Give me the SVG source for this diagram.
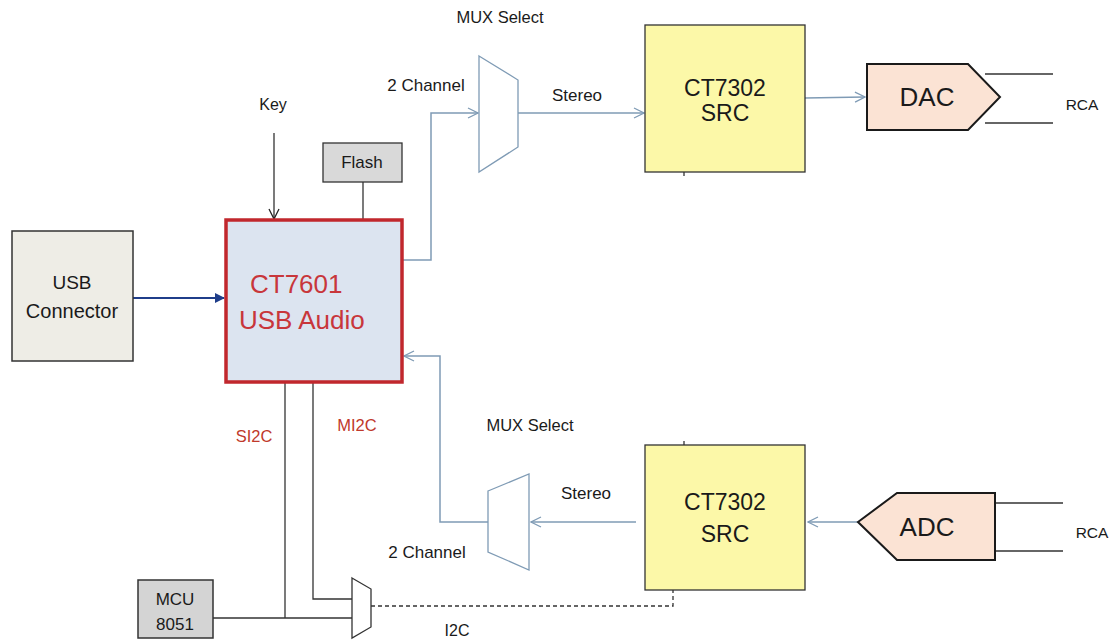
<svg xmlns="http://www.w3.org/2000/svg" width="1116" height="641" viewBox="0 0 1116 641">
<defs>
<style>
text{font-family:"Liberation Sans",Arial,sans-serif;fill:#1a1a1a}
.lbl{font-size:16px}
.red{fill:#c0392b}
.sig{fill:none;stroke:#7f9bb5;stroke-width:1.5}
.blk{fill:none;stroke:#333;stroke-width:1.3}
.src{fill:#fcf8a8;stroke:#333;stroke-width:1.3}
.cnv{fill:#fbe3d4;stroke:#1a1a1a;stroke-width:2}
.mux{fill:#fff;stroke:#7f9bb5;stroke-width:1.3}
</style>
<marker id="oa" viewBox="0 0 12 12" refX="11" refY="6" markerWidth="12" markerHeight="12" markerUnits="userSpaceOnUse" orient="auto">
<path d="M1,1 L11,6 L1,11" fill="none" stroke="#7f9bb5" stroke-width="1.3"/>
</marker>
<marker id="ka" viewBox="0 0 12 12" refX="11" refY="6" markerWidth="12" markerHeight="12" markerUnits="userSpaceOnUse" orient="auto">
<path d="M1,1 L11,6 L1,11" fill="none" stroke="#222" stroke-width="1.3"/>
</marker>
<marker id="ba" viewBox="0 0 10 10" refX="9" refY="5" markerWidth="10" markerHeight="10" markerUnits="userSpaceOnUse" orient="auto">
<path d="M0,0 L10,5 L0,10 Z" fill="#1f3e8a"/>
</marker>
</defs>
<rect width="1116" height="641" fill="#fff"/>

<g id="connectors">
<line x1="133" y1="298" x2="224" y2="298" stroke="#1f3e8a" stroke-width="2.2" marker-end="url(#ba)"/>
<line x1="274" y1="133" x2="274" y2="219" class="blk" marker-end="url(#ka)"/>
<line x1="363" y1="182" x2="363" y2="220" class="blk"/>
<polyline points="402,260 431,260 431,113 478,113" class="sig" marker-end="url(#oa)"/>
<line x1="518" y1="113" x2="644" y2="113" class="sig" marker-end="url(#oa)"/>
<line x1="805" y1="98" x2="865" y2="97" class="sig" marker-end="url(#oa)"/>
<line x1="858" y1="522" x2="808" y2="522" class="sig" marker-end="url(#oa)"/>
<line x1="636" y1="522" x2="531" y2="522" class="sig" marker-end="url(#oa)"/>
<polyline points="488,522 440,522 440,356 404,356" class="sig" marker-end="url(#oa)"/>
<line x1="985" y1="74" x2="1053" y2="74" class="blk"/>
<line x1="985" y1="123" x2="1053" y2="123" class="blk"/>
<line x1="995" y1="503" x2="1063" y2="503" class="blk"/>
<line x1="995" y1="551" x2="1063" y2="551" class="blk"/>
<line x1="285" y1="383" x2="285" y2="618" class="blk"/>
<polyline points="313,383 313,599 352,599" class="blk"/>
<line x1="213" y1="618" x2="352" y2="618" class="blk"/>
<polyline points="371,606 673,606 673,590" fill="none" stroke="#333" stroke-width="1.3" stroke-dasharray="4,3"/>
<line x1="684" y1="172" x2="684" y2="176" class="blk"/>
<line x1="684" y1="441" x2="684" y2="445" class="blk"/>
</g>

<g id="usb-connector">
<rect x="12" y="231" width="121" height="130" fill="#eeede6" stroke="#333" stroke-width="1.5"/>
<text x="72" y="289" font-size="19" text-anchor="middle">USB</text>
<text x="72" y="318" font-size="20" text-anchor="middle">Connector</text>
</g>

<g id="ct7601">
<rect x="226" y="220" width="176" height="162" fill="#dce4f0" stroke="#c1272d" stroke-width="3.5"/>
<text x="250" y="293" font-size="26" style="fill:#c8363b">CT7601</text>
<text x="239" y="329" font-size="26" style="fill:#c8363b">USB Audio</text>
</g>

<g id="key">
<text x="273" y="110" class="lbl" text-anchor="middle">Key</text>
</g>

<g id="flash">
<rect x="323" y="143" width="79" height="39" fill="#d9d9d9" stroke="#333" stroke-width="1.3"/>
<text x="362" y="168" font-size="17" text-anchor="middle">Flash</text>
</g>

<g id="mux-top">
<polygon points="479,56 518,80 518,147 479,172" class="mux"/>
<text x="500" y="23" font-size="16.5" text-anchor="middle">MUX Select</text>
<text x="426" y="91" font-size="17" text-anchor="middle">2 Channel</text>
<text x="577" y="101" font-size="17" text-anchor="middle">Stereo</text>
</g>

<g id="src-top">
<rect x="645" y="25" width="160" height="147" class="src"/>
<text x="725" y="96" font-size="23" text-anchor="middle">CT7302</text>
<text x="725" y="121" font-size="23" text-anchor="middle">SRC</text>
</g>

<g id="dac">
<polygon points="867,64 968,64 1000,97 968,130 867,130" class="cnv"/>
<text x="927" y="106" font-size="26" text-anchor="middle">DAC</text>
<text x="1082" y="110" font-size="15.5" text-anchor="middle">RCA</text>
</g>

<g id="src-bottom">
<rect x="645" y="445" width="160" height="145" class="src"/>
<text x="725" y="510" font-size="23" text-anchor="middle">CT7302</text>
<text x="725" y="542" font-size="23" text-anchor="middle">SRC</text>
</g>

<g id="adc">
<polygon points="858,522 897,493 995,493 995,560 897,560" class="cnv"/>
<text x="927" y="536" font-size="26" text-anchor="middle">ADC</text>
<text x="1092" y="538" font-size="15.5" text-anchor="middle">RCA</text>
</g>

<g id="mux-bottom">
<polygon points="488,491 529,474 529,570 488,552" class="mux"/>
<text x="530" y="431" font-size="16.5" text-anchor="middle">MUX Select</text>
<text x="586" y="499" font-size="17" text-anchor="middle">Stereo</text>
<text x="427" y="558" font-size="17" text-anchor="middle">2 Channel</text>
</g>

<g id="i2c-labels">
<text x="254" y="442" font-size="16.5" class="red" text-anchor="middle">SI2C</text>
<text x="357" y="431" font-size="16.5" class="red" text-anchor="middle">MI2C</text>
<text x="457" y="636" font-size="16" text-anchor="middle">I2C</text>
</g>

<g id="mcu">
<rect x="138" y="580" width="75" height="58" fill="#d4d4d4" stroke="#333" stroke-width="1.5"/>
<text x="175" y="605" font-size="17" text-anchor="middle">MCU</text>
<text x="175" y="630" font-size="17" text-anchor="middle">8051</text>
</g>

<g id="i2c-mux">
<polygon points="352,578 371,589 371,627 352,638" fill="#fff" stroke="#333" stroke-width="1.3"/>
</g>
</svg>
